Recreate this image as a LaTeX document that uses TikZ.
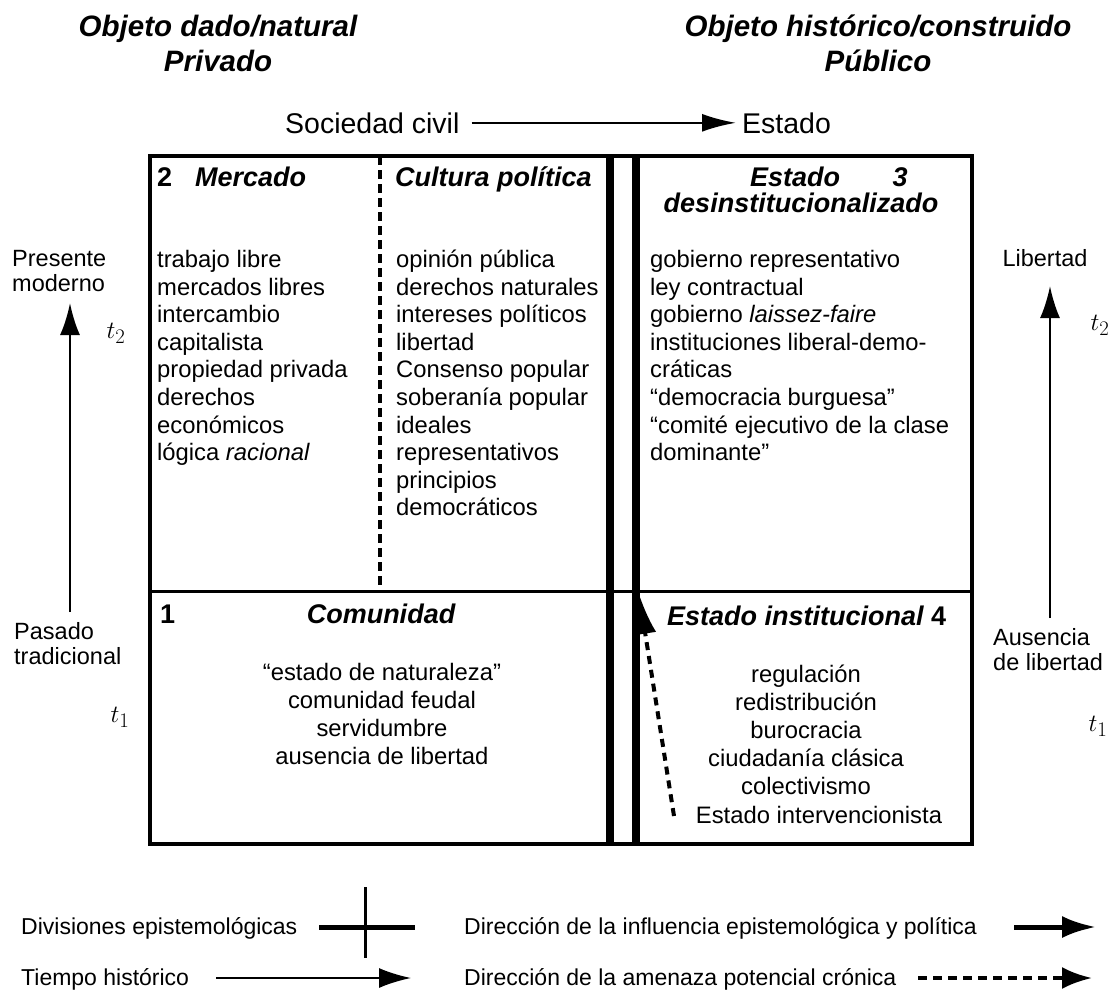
\documentclass[tikz,border=0pt]{standalone}
\usepackage{fontspec}
\setmainfont{Liberation Sans}
\usetikzlibrary{arrows.meta}
\newcommand\fsz[2]{\fontsize{#1}{#2}\selectfont}
\begin{document}
\begin{tikzpicture}[x=1pt,y=-1pt,
  ttl/.style={font=\fsz{29.5}{35}\bfseries\itshape, align=center, inner sep=0pt, anchor=north},
  hdr/.style={font=\fsz{27}{27}\bfseries\itshape, inner sep=0pt},
  num/.style={font=\fsz{27}{27}\bfseries, inner sep=0pt},
  lst/.style={font=\fsz{23.8}{27.6}, align=left, inner sep=0pt, anchor=north west},
  clst/.style={font=\fsz{23.8}{28}, align=center, inner sep=0pt, anchor=north},
  axl/.style={font=\fsz{23.5}{23}, align=left, inner sep=0pt, anchor=north west},
  tl/.style={font=\fsz{28}{28}, inner sep=0pt},
  leg/.style={font=\fsz{23}{23}, inner sep=0pt, anchor=base west},
  frame/.style={line width=3.5pt},
  thick div/.style={line width=8pt},
  dashdiv/.style={line width=4pt, dash pattern=on 9pt off 5pt},
  axarrow/.style={line width=2.5pt, -{Latex[length=32pt,width=20pt]}},
]
\useasboundingbox (0,0) rectangle (1111,993);
\fill[white] (0,0) rectangle (1111,993);

% titles
\node[ttl] (tleft) at (218,12) {\strut Objeto dado/natural\\Privado};
\node[ttl] (tright) at (878,12) {\strut Objeto histórico/construido\\Público};

% Sociedad civil -> Estado
\node[font=\fsz{28.5}{29}, inner sep=0pt, anchor=base west] (sc) at (285,133) {Sociedad civil};
\node[font=\fsz{28.5}{29}, inner sep=0pt, anchor=base west] (est) at (742,133) {Estado};
\draw[line width=2.5pt, -{Latex[length=34pt,width=18pt]}, shorten <=12pt, shorten >=6pt] (sc.east) -- (est.west);

% main frame
\coordinate (tlc) at (150,156);
\coordinate (brc) at (972,844);
\coordinate (ml) at (150,591);
\coordinate (mr) at (972,591);
\coordinate (dtop) at (380,156);
\coordinate (dbot) at (380,591);
\coordinate (k1t) at (610,156);
\coordinate (k1b) at (610,844);
\coordinate (k2t) at (636,156);
\coordinate (k2b) at (636,844);
\draw[frame] (tlc) rectangle (brc);
\draw[line width=3pt] (ml) -- (mr);
\draw[dashdiv] (dtop) -- (dbot);
\draw[thick div] (k1t) -- (k1b);
\draw[thick div] (k2t) -- (k2b);

% quadrant 2
\node[num, anchor=base west] (n2) at (157,186) {2};
\node[hdr, anchor=base west] (hmerc) at (195,186) {Mercado};
\node[hdr, anchor=base west] (hcult) at (395,186) {Cultura política};
\node[lst] (lmerc) at (157,248) {\strut trabajo libre\\mercados libres\\intercambio\\capitalista\\propiedad privada\\derechos\\económicos\\lógica \textit{racional}};
\node[lst] (lcult) at (396,248) {\strut opinión pública\\derechos naturales\\intereses políticos\\libertad\\Consenso popular\\soberanía popular\\ideales\\representativos\\principios\\democráticos};

% quadrant 3
\node[hdr, anchor=base] (hest) at (795,186) {Estado};
\node[hdr, anchor=base] (n3) at (900,186) {3};
\node[hdr, anchor=base] (hdes) at (801,212) {desinstitucionalizado};
\node[lst] (lest) at (650,248) {\strut gobierno representativo\\ley contractual\\gobierno \textit{laissez-faire}\\instituciones liberal-demo-\\cráticas\\“democracia burguesa”\\“comité ejecutivo de la clase\\dominante”};

% quadrant 1
\node[num, anchor=base west] (n1) at (160,623) {1};
\node[hdr, anchor=base] (hcom) at (381,623) {Comunidad};
\node[clst] (lcom) at (382,661) {\strut “estado de naturaleza”\\comunidad feudal\\servidumbre\\ausencia de libertad};

% quadrant 4
\node[hdr, anchor=base west] (hinst) at (667,625) {Estado institucional {\upshape 4}};
\node[clst] (linst) at (806,663) {\strut regulación\\redistribución\\burocracia\\ciudadanía clásica\\colectivismo};
\node[font=\fsz{23.8}{28}, inner sep=0pt, anchor=base] (interv) at (819,823) {Estado intervencionista};
\coordinate (thr0) at (674,816);
\coordinate (thr1) at (639,594);
\draw[line width=4pt, dash pattern=on 8pt off 6pt, -{Latex[length=40pt,width=22pt]}] (thr0) -- (thr1);

% left axis
\node[axl] (pres) at (12,250) {\strut Presente\\moderno};
\node[axl] (pas) at (14,622) {\strut Pasado\\tradicional};
\coordinate (la0) at (70,612);
\coordinate (la1) at (70,303);
\draw[axarrow] (la0) -- (la1);
\node[tl] (lt2) at (116,333) {$t_2$};
\node[tl] (lt1) at (120,717) {$t_1$};

% right axis
\node[font=\fsz{23.5}{23}, inner sep=0pt, anchor=base] (lib) at (1045,266) {Libertad};
\node[axl] (aus) at (993,628) {\strut Ausencia\\de libertad};
\coordinate (ra0) at (1050,618);
\coordinate (ra1) at (1050,286);
\draw[axarrow] (ra0) -- (ra1);
\node[tl] (rt2) at (1100,325) {$t_2$};
\node[tl] (rt1) at (1098,726) {$t_1$};

% legend
\node[leg] (ldiv) at (21,934) {Divisiones epistemológicas};
\coordinate (cx0) at (319,927);
\coordinate (cx1) at (415,927);
\coordinate (cy0) at (365,887);
\coordinate (cy1) at (365,958);
\draw[line width=5pt] (cx0) -- (cx1);
\draw[line width=3pt] (cy0) -- (cy1);
\node[leg] (ltie) at (21,985) {Tiempo histórico};
\coordinate (ta0) at (216,978);
\coordinate (ta1) at (411,978);
\draw[line width=2pt, -{Latex[length=32pt,width=20pt]}] (ta0) -- (ta1);
\node[leg] (linf) at (464,934) {Dirección de la influencia epistemológica y política};
\coordinate (ia0) at (1014,927);
\coordinate (ia1) at (1096,927);
\draw[line width=5pt, -{Latex[length=34pt,width=22pt]}] (ia0) -- (ia1);
\node[leg] (lame) at (464,985) {Dirección de la amenaza potencial crónica};
\coordinate (aa0) at (918,978);
\coordinate (aa1) at (1092,978);
\draw[line width=4pt, dash pattern=on 9pt off 6pt, -{Latex[length=30pt,width=22pt]}] (aa0) -- (aa1);
\end{tikzpicture}
\end{document}
